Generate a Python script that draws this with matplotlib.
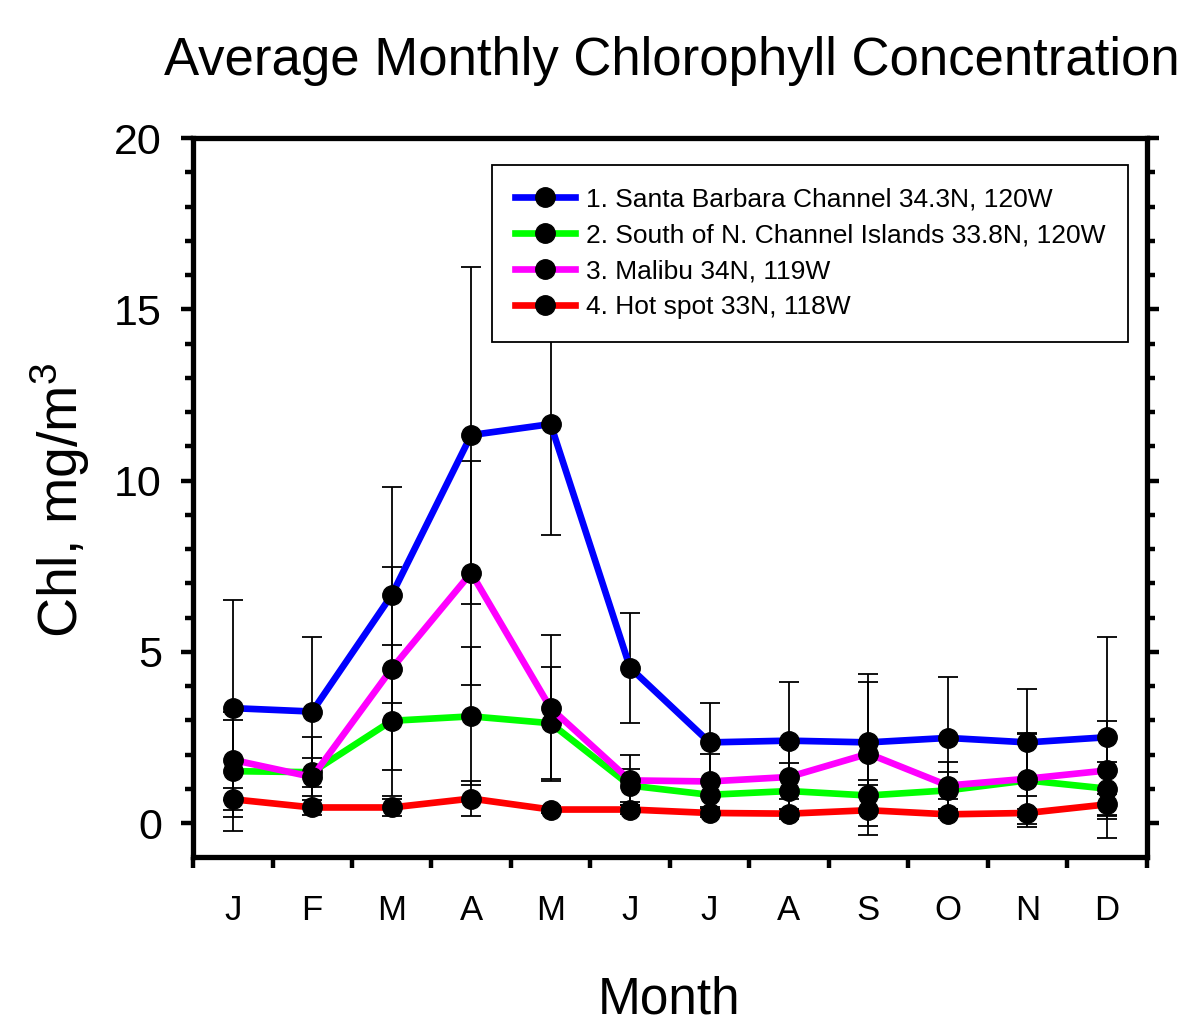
import matplotlib.pyplot as plt
import numpy as np

plt.rcParams['font.family'] = ['Liberation Sans', 'DejaVu Sans']
plt.rcParams['mathtext.fontset'] = 'custom'
plt.rcParams['mathtext.rm'] = 'Liberation Sans'

# --- data ---
months = ['J', 'F', 'M', 'A', 'M', 'J', 'J', 'A', 'S', 'O', 'N', 'D']

santa_barbara = [3.36, 3.26, 6.66, 11.33, 11.65, 4.54, 2.36, 2.41, 2.36, 2.49, 2.36, 2.51]
santa_barbara_err = [3.17, 2.19, 3.14, 4.92, 3.25, 1.60, 1.14, 1.70, 2.00, 1.78, 1.56, 2.94]

channel_islands = [1.52, 1.49, 2.99, 3.12, 2.92, 1.10, 0.83, 0.94, 0.81, 0.96, 1.25, 1.01]
channel_islands_err = [1.74, 1.02, 2.20, 2.01, 1.64, 0.47, 0.35, 0.82, 0.46, 0.53, 1.35, 0.79]

malibu = [1.85, 1.35, 4.51, 7.31, 3.36, 1.25, 1.22, 1.35, 2.03, 1.10, 1.30, 1.54]
malibu_err = [1.16, 0.55, 2.96, 3.27, 2.13, 0.73, 0.80, 0.92, 2.10, 0.68, 1.33, 1.43]

hot_spot = [0.70, 0.46, 0.46, 0.72, 0.40, 0.40, 0.30, 0.28, 0.38, 0.26, 0.30, 0.55]
hot_spot_err = [0.32, 0.22, 0.25, 0.50, 0.10, 0.12, 0.12, 0.10, 0.73, 0.10, 0.12, 0.30]

labels = ['1. Santa Barbara Channel 34.3N, 120W',
          '2. South of N. Channel Islands 33.8N, 120W',
          '3. Malibu 34N, 119W',
          '4. Hot spot 33N, 118W']
colors = ['#0000ff', '#00ff00', '#ff00ff', '#ff0000']

fig = plt.figure(figsize=(11.88, 10.24), dpi=100)
ax = fig.add_axes([0.1625, 0.1626, 0.8026, 0.7026])

x = np.arange(len(months))
series = [(santa_barbara, santa_barbara_err), (channel_islands, channel_islands_err),
          (malibu, malibu_err), (hot_spot, hot_spot_err)]

for (vals, err), lab, col in zip(series, labels, colors):
    ax.errorbar(x, vals, yerr=err, fmt='none', ecolor='black', elinewidth=1.3,
                capsize=7, capthick=1.3, zorder=2)
    ax.plot(x, vals, color=col, lw=4.8, marker='o', ms=14, mfc='black', mec='black',
            zorder=3, label=lab)

ax.set_xlim(-0.5, 11.5)
ax.set_ylim(-1, 20)

ax.set_xticks(np.arange(-0.5, 12, 1))
ax.set_xticklabels([])
ax.set_xticks(x, minor=True)
ax.set_xticklabels(months, minor=True)
ax.tick_params(axis='x', which='major', direction='out', length=8, width=3.2, top=False)
ax.tick_params(axis='x', which='minor', length=0, pad=26, labelsize=25)

ax.set_yticks([0, 5, 10, 15, 20])
ax.set_yticks([v for v in range(1, 20) if v % 5], minor=True)
ax.tick_params(axis='y', which='both', direction='out', left=True, right=True,
               width=3.2, labelsize=31, pad=14)
ax.tick_params(axis='y', which='major', length=8.5)
ax.tick_params(axis='y', which='minor', length=5.5)

for sp in ax.spines.values():
    sp.set_linewidth(3.8)

leg = ax.legend(loc='upper left', bbox_to_anchor=(0.3137, 0.9624), borderaxespad=0,
                fontsize=19, fancybox=False, edgecolor='black', framealpha=1,
                handlelength=2.3, handletextpad=0.4, labelspacing=0.45, borderpad=0.85)
leg.get_frame().set_linewidth(1.3)

fig.text(672 / 1188, 1 - 75 / 1024, 'Average Monthly Chlorophyll Concentration',
         ha='center', va='baseline', fontsize=38)
fig.text(669 / 1188, 1 - 1013 / 1024, 'Month', ha='center', va='baseline', fontsize=37)
fig.text(60 / 1188, 1 - 500 / 1024, 'Chl, mg/m$\\mathregular{^3}$', rotation=90,
         ha='center', va='center', fontsize=40)

fig.savefig('out.png', dpi=100)
